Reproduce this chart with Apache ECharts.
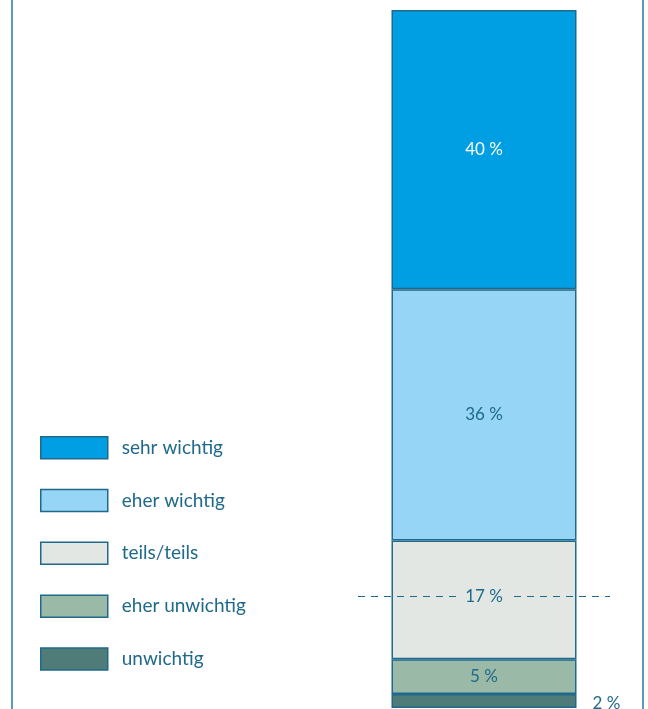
<!DOCTYPE html>
<html>
<head>
<meta charset="utf-8">
<script src="https://cdn.jsdelivr.net/npm/echarts@6/dist/echarts.min.js"></script>
<style>
  html, body { margin: 0; padding: 0; background: #fff; }
  #chart { width: 648px; height: 709px; }
</style>
</head>
<body>
<div id="chart"></div>
<script>
// Data (stacked from bottom to top)
const categories = ['Gesamt'];
const seriesNames = ['unwichtig', 'eher unwichtig', 'teils/teils', 'eher wichtig', 'sehr wichtig'];
const seriesValues = [2, 5, 17, 36, 40];
const legendOrder = ['sehr wichtig', 'eher wichtig', 'teils/teils', 'eher unwichtig', 'unwichtig'];
const midLineLevel = 16; // dashed reference line

// Colors
const fills = ['#4f7c78', '#9ab9a6', '#e2e7e4', '#96d5f5', '#009fe3'];
const ink = '#1f6a8a';
const font = 'Lato, "Open Sans", sans-serif';

const series = seriesNames.map((name, i) => {
  const s = {
    name: name,
    type: 'bar',
    stack: 'total',
    barWidth: 185,
    data: [seriesValues[i]],
    itemStyle: { color: fills[i], borderColor: ink, borderWidth: 1.5 },
    label: {
      show: true,
      position: 'inside',
      formatter: p => p.value + ' %',
      color: i === 4 ? '#ffffff' : ink,
      fontFamily: font,
      fontSize: 17
    }
  };
  if (i === 0) {
    // small segment: label sits to the right of the bar
    s.label.position = 'right';
    s.label.distance = 16;
    s.label.offset = [0, 2];
  }
  if (i === 2) {
    // label shown on the dashed line instead
    s.label.show = false;
    s.markLine = {
      silent: true,
      symbol: ['none', 'none'],
      lineStyle: { color: ink, type: [7, 6], width: 1.2 },
      label: {
        show: true,
        position: 'middle',
        verticalAlign: 'middle',
        formatter: () => seriesValues[2] + ' %',
        color: ink,
        fontFamily: font,
        fontSize: 17,
        backgroundColor: fills[2],
        padding: [2, 8],
        distance: 0
      },
      data: [{ yAxis: midLineLevel }]
    };
  }
  return s;
});

const chart = echarts.init(document.getElementById('chart'));
chart.setOption({
  animation: false,
  backgroundColor: '#ffffff',
  grid: { left: 358, width: 252, top: 10, bottom: 1 },
  xAxis: {
    type: 'category',
    data: categories,
    show: false
  },
  yAxis: {
    type: 'value',
    min: 0,
    max: 100,
    show: false
  },
  legend: {
    orient: 'vertical',
    left: 40,
    top: 436,
    padding: 0,
    icon: 'rect',
    itemWidth: 67,
    itemHeight: 22,
    itemGap: 29.3,
    data: legendOrder,
    itemStyle: { borderColor: ink, borderWidth: 1.5 },
    textStyle: { color: ink, fontFamily: font, fontSize: 19, lineHeight: 20, padding: [0, 0, 0, 9] }
  },
  graphic: [
    { type: 'line', shape: { x1: 12, y1: 0, x2: 12, y2: 709 }, style: { stroke: '#2a7aa0', lineWidth: 1.5 } },
    { type: 'line', shape: { x1: 643, y1: 0, x2: 643, y2: 709 }, style: { stroke: '#2a7aa0', lineWidth: 1.5 } }
  ],
  series: series
});
</script>
</body>
</html>
